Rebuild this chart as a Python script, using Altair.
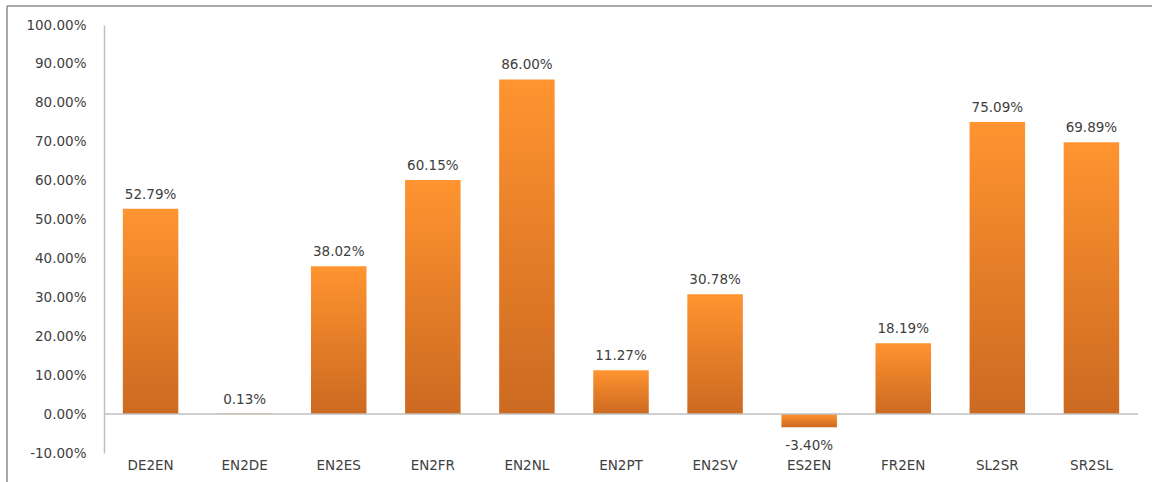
import altair as alt
import pandas as pd

# Improvement per language pair
pairs = ["DE2EN", "EN2DE", "EN2ES", "EN2FR", "EN2NL", "EN2PT",
         "EN2SV", "ES2EN", "FR2EN", "SL2SR", "SR2SL"]
gains = [0.5279, 0.0013, 0.3802, 0.6015, 0.8600, 0.1127,
         0.3078, -0.0340, 0.1819, 0.7509, 0.6989]
y_ticks = [-0.1, 0.0, 0.1, 0.2, 0.3, 0.4, 0.5, 0.6, 0.7, 0.8, 0.9, 1.0]

df = pd.DataFrame({"pair": pairs, "gain": gains})

W, H = 1034, 428
FONT = "DejaVu Sans"
FSIZE = 13.5
TEXT = "#404040"
AXIS_GRAY = "#BFBFBF"

x_scale = alt.Scale(paddingInner=0.41, paddingOuter=0.2)
y_scale = alt.Scale(domain=[-0.1, 1.0], nice=False, zero=False)
x_axis = alt.Axis(labelAngle=0, domain=False, ticks=False, labelPadding=5,
                  labelFont=FONT, labelFontSize=FSIZE, labelColor=TEXT)
y_axis = alt.Axis(values=y_ticks, format=".2%", grid=False, ticks=False,
                  labelOverlap=False,
                  labelExpr="replace(datum.label, '\u2212', '-')",
                  domainColor=AXIS_GRAY, domainWidth=1.5, labelPadding=18,
                  labelFont=FONT, labelFontSize=FSIZE, labelColor=TEXT)

x_enc = alt.X("pair:N", sort=pairs, title=None, scale=x_scale, axis=x_axis)
y_enc = alt.Y("gain:Q", title=None, scale=y_scale, axis=y_axis)

orange = alt.Gradient(
    gradient="linear", x1=0, x2=0, y1=0, y2=1,
    stops=[alt.GradientStop(color="#FF9430", offset=0),
           alt.GradientStop(color="#E57E28", offset=0.5),
           alt.GradientStop(color="#CC6A22", offset=1)],
)

base = alt.Chart(df).transform_calculate(
    label="replace(format(datum.gain, '.2%'), '\u2212', '-')"
)

bars = base.mark_bar(color=orange).encode(x=x_enc, y=y_enc, y2=alt.datum(0))

zero_line = base.transform_filter(alt.datum.pair == pairs[0]).mark_rule(
    color=AXIS_GRAY, strokeWidth=1.5
).encode(y=alt.Y(datum=0, type="quantitative", title=None,
                 scale=y_scale, axis=y_axis),
         x=alt.value(0), x2=alt.value(W))

pos_labels = base.transform_filter(alt.datum.gain >= 0).mark_text(
    baseline="alphabetic", dy=-10, font=FONT, fontSize=FSIZE, color=TEXT
).encode(x=x_enc, y=y_enc, text="label:N")

neg_labels = base.transform_filter(alt.datum.gain < 0).mark_text(
    baseline="top", dy=12, font=FONT, fontSize=FSIZE, color=TEXT
).encode(x=x_enc, y=y_enc, text="label:N")

# Outer frame lines (top and left edges of the chart box)
frame_top = alt.Chart(alt.Data(values=[{}])).mark_rule(
    color="#8C8C8C", strokeWidth=1.5
).encode(x=alt.value(-97), x2=alt.value(W + 40), y=alt.value(-19))
frame_left = alt.Chart(alt.Data(values=[{}])).mark_rule(
    color="#8C8C8C", strokeWidth=1.5
).encode(x=alt.value(-97), y=alt.value(-19), y2=alt.value(H + 40))

chart = (
    alt.layer(bars, zero_line, pos_labels, neg_labels, frame_top, frame_left)
    .properties(
        width=W, height=H,
        autosize=alt.AutoSizeParams(type="none"),
        padding={"left": 104, "top": 25, "right": 14, "bottom": 29},
        background="white",
    )
    .configure_view(strokeWidth=0)
    .configure_axis(labelOverlap=False)
)

chart.save("out.html", embed_options={"renderer": "svg", "actions": False})
